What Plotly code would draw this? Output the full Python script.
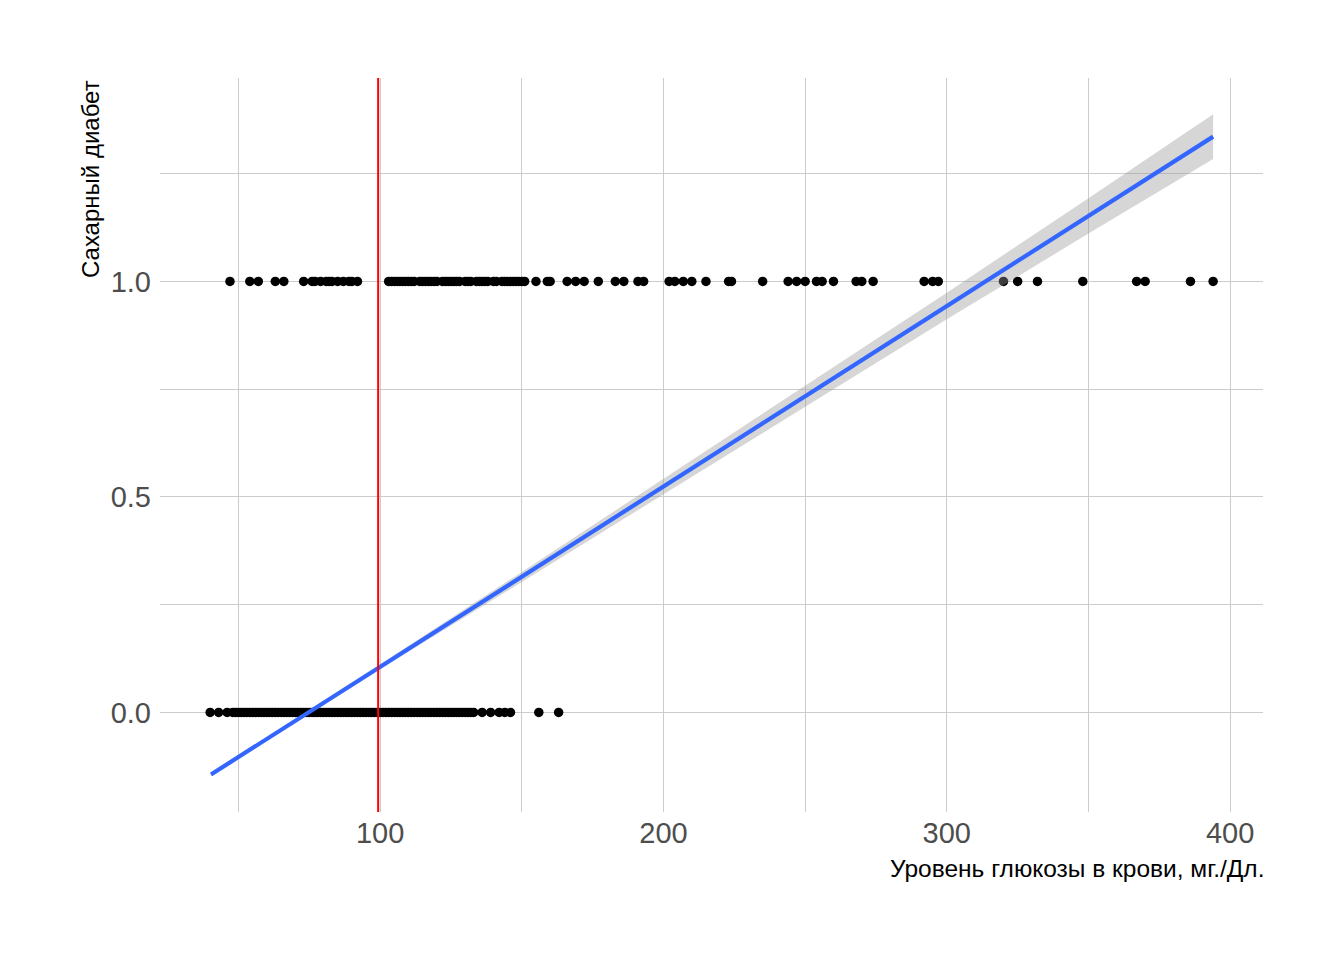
import plotly.graph_objects as go

# Glucose values (mg/dL) of observations, by outcome
glucose_no_diabetes = [40, 43, 46, 48, 49, 50, 51, 52, 53, 54, 55, 56, 57, 58, 59, 60, 61, 62, 63, 64,
                       65, 66, 67, 68, 69, 70, 71, 72, 73, 74, 75, 76, 77, 78, 79, 80, 81, 82, 83, 84,
                       85, 86, 87, 88, 89, 90, 91, 92, 93, 94, 95, 96, 97, 98, 99, 100, 101, 102, 103,
                       104, 105, 106, 107, 108, 109, 110, 111, 112, 113, 114, 115, 116, 117, 118, 119,
                       120, 121, 122, 123, 124, 125, 126, 127, 128, 129, 130, 131, 132, 133, 136, 139,
                       142, 144, 146, 156, 163]
glucose_diabetes = [47, 54, 57, 63, 66, 73, 76, 77, 79, 81, 82, 83, 85, 87, 89, 90, 92,
                    103, 104, 105, 106, 107, 108, 109, 110, 111, 112, 114, 115, 116, 117, 118,
                    119, 120, 122, 123, 124, 125, 126, 127, 128, 130, 131, 132, 134, 135, 136, 137,
                    138, 140, 141, 143, 144, 145, 146, 147, 148, 149, 150, 151, 155, 159,
                    160, 166, 169, 172, 177, 183, 186, 191, 193, 202, 204, 207, 210, 215, 223, 224,
                    235, 244, 247, 250, 254, 256, 260, 268, 270, 274, 292, 295, 297, 320, 325, 332,
                    348, 367, 370, 386, 394]
outcome_no = [0] * len(glucose_no_diabetes)
outcome_yes = [1] * len(glucose_diabetes)

# Linear fit, with its confidence band half-width
fit_x = [40.3, 100, 150, 200, 250, 300, 350, 394]
fit_y = [-0.144, 0.106, 0.315, 0.524, 0.733, 0.943, 1.152, 1.336]
fit_half = [0.004, 0.006, 0.011, 0.018, 0.024, 0.031, 0.041, 0.052]

threshold = 99.3

x_ticks = [100, 200, 300, 400]
y_ticks = [0.0, 0.5, 1.0]
y_tick_text = ["0.0", "0.5", "1.0"]

x_title = "Уровень глюкозы в крови, мг./Дл."
y_title = "Сахарный диабет"

fig = go.Figure()

fig.add_trace(go.Scatter(
    x=glucose_no_diabetes + glucose_diabetes, y=outcome_no + outcome_yes,
    mode="markers", marker=dict(color="black", size=9.5, line=dict(width=0)),
    hoverinfo="skip", showlegend=False))

upper = [y + h for y, h in zip(fit_y, fit_half)]
lower = [y - h for y, h in zip(fit_y, fit_half)]
fig.add_trace(go.Scatter(
    x=fit_x + fit_x[::-1], y=upper + lower[::-1],
    fill="toself", fillcolor="rgba(153,153,153,0.4)", line=dict(width=0),
    mode="lines", hoverinfo="skip", showlegend=False))

fig.add_trace(go.Scatter(
    x=fit_x, y=fit_y, mode="lines",
    line=dict(color="#3366FF", width=4.2), hoverinfo="skip", showlegend=False))

fig.add_vline(x=threshold, line=dict(color="red", width=2))

grid = "#cccccc"
fig.update_layout(
    width=1344, height=960,
    paper_bgcolor="white", plot_bgcolor="white",
    margin=dict(l=152, r=89, t=70, b=156),
    font=dict(family="Liberation Sans, Arial, sans-serif"),
    xaxis=dict(range=[22.3, 411.6], tickvals=x_ticks, ticktext=[str(v) for v in x_ticks],
               showgrid=True, gridcolor=grid, gridwidth=1.2, zeroline=False, showline=False,
               ticks="", ticklabelstandoff=1,
               tickfont=dict(size=29, color="#4d4d4d"),
               minor=dict(tickvals=[50, 150, 250, 350], showgrid=True, gridcolor=grid, gridwidth=0.9)),
    yaxis=dict(range=[-0.231, 1.472], tickvals=y_ticks, ticktext=y_tick_text,
               showgrid=True, gridcolor=grid, gridwidth=1.2, zeroline=False, showline=False,
               ticks="", ticklabelstandoff=8,
               tickfont=dict(size=29, color="#4d4d4d"),
               minor=dict(tickvals=[0.25, 0.75, 1.25], showgrid=True, gridcolor=grid, gridwidth=0.9)),
    annotations=[
        dict(text=x_title, xref="paper", yref="paper", x=1.003, y=-0.0763,
             xanchor="right", yanchor="middle", showarrow=False,
             font=dict(size=24.5, color="black")),
        dict(text=y_title, xref="paper", yref="paper", x=-0.0634, y=1,
             xanchor="center", yanchor="top", textangle=-90, showarrow=False,
             font=dict(size=24, color="black")),
    ],
)

fig.write_html("out.html")
